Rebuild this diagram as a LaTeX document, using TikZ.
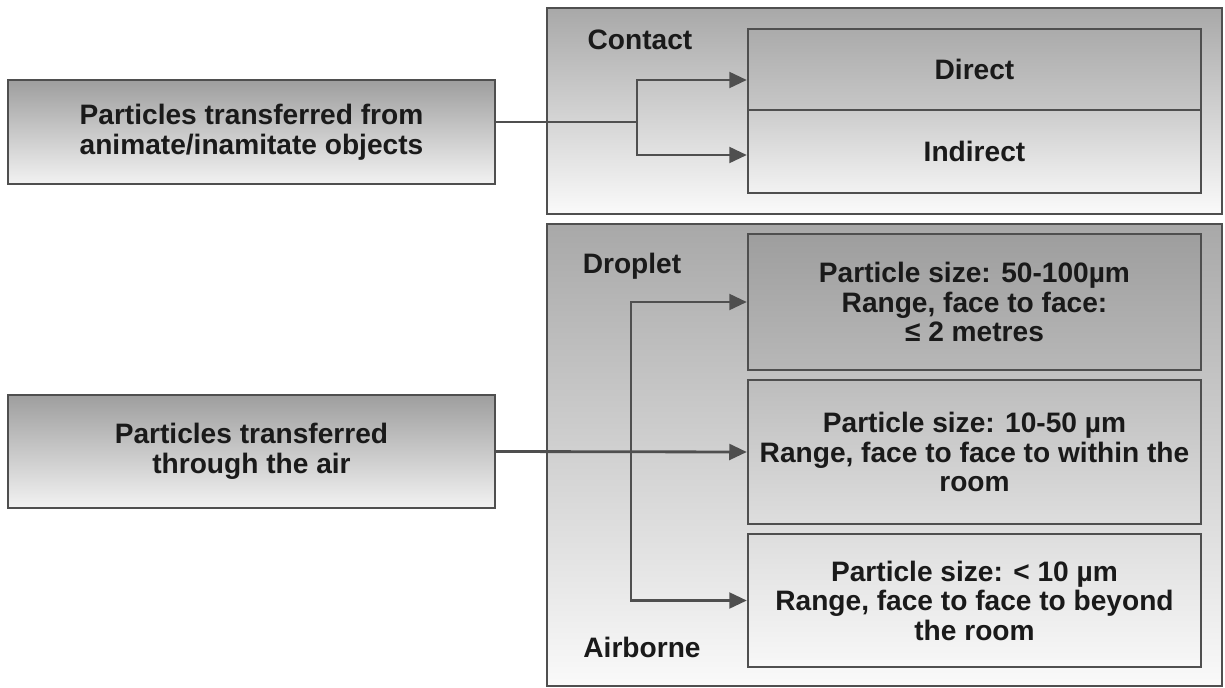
\documentclass[tikz,border=0pt]{standalone}
\usepackage{fontspec}
\setmainfont{Liberation Sans}
\usepackage{xcolor}
\usepackage{tikz}
\usetikzlibrary{arrows,arrows.meta,positioning,calc}
\definecolor{edgegray}{HTML}{4F4F4F}
\definecolor{inkgray}{HTML}{1A1A1A}

\begin{document}
\begin{tikzpicture}[x=0.02cm,y=-0.02cm,
    every node/.style={font=\bfseries\fontsize{16}{16.8}\selectfont,text=inkgray},
    srcbox/.style={draw=edgegray,line width=1.4pt,top color=black!38,bottom color=black!5,
        minimum width=9.74cm,align=center,inner sep=0pt},
    groupbox/.style={draw=edgegray,line width=1.4pt,top color=black!34,bottom color=black!2,
        minimum width=13.5cm,inner sep=0pt},
    leafbox/.style={draw=edgegray,line width=1.4pt,minimum width=9.06cm,align=center,inner sep=0pt},
    link/.style={edgegray,line width=1.6pt},
    feed/.style={link,-{Triangle[length=10pt,width=9pt]}}]
    \useasboundingbox (0,0) rectangle (1225,687);

    % Top: contact transmission
    \node[srcbox,minimum height=2.08cm] (objects) at (251.5,132) {Particles transferred from\\animate/inamitate objects};
    \node[groupbox,minimum height=4.12cm] (contact) at (884.5,111) {};
    \node (contactlbl) at (640,40) {Contact};
    \node[leafbox,minimum height=1.62cm,top color=black!33,bottom color=black!22] (direct) at (974.5,69.5) {Direct};
    \node[leafbox,minimum height=1.66cm,top color=black!20,bottom color=black!5] (indirect) at (974.5,151.5) {Indirect};

    \coordinate (splitA) at (637,122);
    \draw[link] (objects.east |- splitA) -- (splitA);
    \draw[feed] (splitA) |- ([yshift=-2.1mm]direct.west);
    \draw[feed] (splitA) |- ([yshift=-0.7mm]indirect.west);

    % Bottom: droplet and airborne transmission
    \node[srcbox,minimum height=2.26cm] (air) at (251.5,451.5) {Particles transferred\\through the air};
    \node[groupbox,minimum height=9.24cm] (airgroup) at (884.5,455) {};
    \node (dropletlbl) at (632,266) {Droplet};
    \node (airbornelbl) at (642,647) {Airborne};
    \node[leafbox,minimum height=2.72cm,top color=black!38,bottom color=black!28] (droplet) at (974.5,302)
        {Particle size: 50-100µm\\Range, face to face:\\≤ 2 metres};
    \node[leafbox,minimum height=2.88cm,top color=black!26,bottom color=black!13] (room) at (974.5,452)
        {Particle size: 10-50 µm\\Range, face to face to within the\\room};
    \node[leafbox,minimum height=2.66cm,top color=black!13,bottom color=black!3] (beyond) at (974.5,600.5)
        {Particle size: < 10 µm\\Range, face to face to beyond\\the room};

    \coordinate (splitB) at (631,452);
    \draw[feed] (air.east) -- (room.west);
    \draw[feed] (splitB) |- (droplet.west);
    \draw[feed] (splitB) |- (beyond.west);
\end{tikzpicture}
\end{document}
